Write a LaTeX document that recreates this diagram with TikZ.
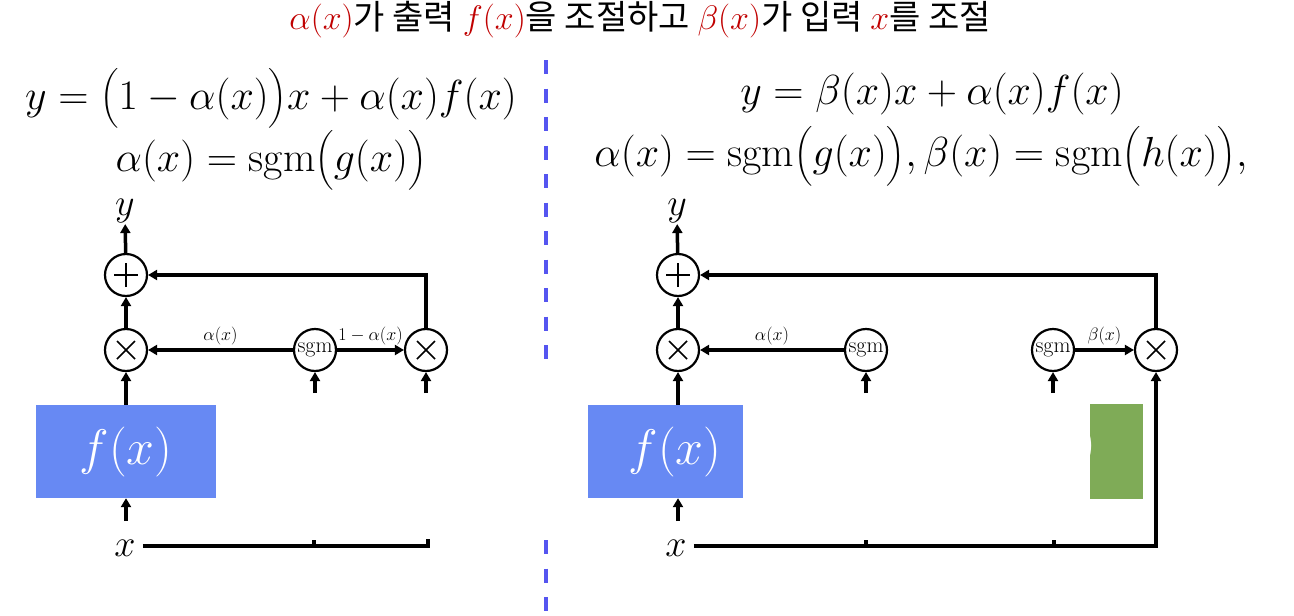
\RequirePackage{fix-cm}
\documentclass[tikz,border=0pt]{standalone}
\usepackage{amsmath}
\usepackage{fontspec}
\newfontfamily\kr{Noto Sans CJK KR}
\usetikzlibrary{arrows.meta}
\definecolor{fblue}{RGB}{103,137,243}
\definecolor{hgreen}{RGB}{127,171,87}
\definecolor{divblue}{RGB}{85,85,240}
\definecolor{tred}{RGB}{192,0,0}
\begin{document}
\begin{tikzpicture}[x=1pt,y=-1pt,
  op/.style={circle,draw,line width=2.2pt,minimum size=42pt,inner sep=0pt,fill=white},
  plusop/.style={op,path picture={
     \draw[line width=1.6pt] ([xshift=-12pt]path picture bounding box.center) -- ([xshift=12pt]path picture bounding box.center);
     \draw[line width=1.6pt] ([yshift=-12pt]path picture bounding box.center) -- ([yshift=12pt]path picture bounding box.center);}},
  timesop/.style={op,path picture={
     \draw[line width=1.6pt] ([shift={(-9pt,-9pt)}]path picture bounding box.center) -- ([shift={(9pt,9pt)}]path picture bounding box.center);
     \draw[line width=1.6pt] ([shift={(-9pt,9pt)}]path picture bounding box.center) -- ([shift={(9pt,-9pt)}]path picture bounding box.center);}},
  sgmop/.style={op,font=\fontsize{22}{23}\selectfont},
  conn/.style={line width=3.5pt,-{Triangle[length=9pt,width=10pt]}},
  wire/.style={line width=3.5pt},
  lab/.style={font=\fontsize{18}{20}\selectfont,inner sep=1pt},
  big/.style={font=\fontsize{38}{42}\selectfont,inner sep=1pt},
  eqn/.style={font=\fontsize{42}{62}\selectfont,inner sep=0pt,align=center},
  boxtext/.style={text=white,font=\fontsize{50}{54}\selectfont},
  fbox/.style={fill=fblue,minimum height=93pt,inner sep=0pt}
]
\useasboundingbox (0,0) rectangle (1294,616);

% title
\node[font=\kr\fontsize{34}{38}\selectfont] (title) at (640,20)
  {\textcolor{tred}{$\alpha(x)$}가 출력 \textcolor{tred}{$f(x)$}을 조절하고 \textcolor{tred}{$\beta(x)$}가 입력 \textcolor{tred}{$x$}를 조절};

% divider
\draw[divblue,line width=3.5pt,dash pattern=on 14pt off 14.5pt] (546,60) -- (546,362);
\draw[divblue,line width=3.5pt,dash pattern=on 14pt off 14.5pt] (546,540) -- (546,612);

% ---------- left ----------
\node[eqn] (eqL) at (271,129.5) {$y=\bigl(1-\alpha(x)\bigr)x+\alpha(x)f(x)$\\ $\alpha(x)=\mathrm{sgm}\bigl(g(x)\bigr)$};

\node[big] (yl1) at (125,211) {$y$};
\node[plusop] (p1) at (126,275) {};
\node[timesop] (t1) at (126,350) {};
\node[sgmop] (s1) at (315,350) {sgm};
\node[timesop] (t2) at (426,350) {};
\node[fbox,minimum width=180pt] (f1) at (126,451.5) {};
\node[boxtext] (f1t) at (126,451.5) {$f(x)$};
\node[big] (xl1) at (125,548) {$x$};

\coordinate (xa1) at (126,521);
\coordinate (sa1) at (315,393);
\coordinate (ta2) at (426,393);

\draw[conn] (p1) -- (yl1);
\draw[conn] (t1) -- (p1);
\draw[conn] (f1.north -| t1) -- (t1);
\draw[conn] (xa1) -- (f1.south -| xa1);
\draw[conn] (s1) -- node[lab,above=2pt]{$\alpha(x)$} (t1);
\draw[conn] (s1) -- node[lab,above=2pt]{$1-\alpha(x)$} (t2);
\draw[conn] (t2) |- (p1);
\draw[conn] (sa1) -- (s1);
\draw[conn] (ta2) -- (t2);
\draw[wire] ([xshift=6pt]xl1.east |- 0,546) -- (428,546) -- (428,539);
\draw[wire] (314,546) -- (314,540);

% ---------- right ----------
\node[eqn] (eqR) at (921,129.5) {\hspace*{22pt}$y=\beta(x)x+\alpha(x)f(x)$\\ $\alpha(x)=\mathrm{sgm}\bigl(g(x)\bigr),\beta(x)=\mathrm{sgm}\bigl(h(x)\bigr),$};

\node[big] (yl2) at (677,211) {$y$};
\node[plusop] (p2) at (678,275) {};
\node[timesop] (t3) at (678,350) {};
\node[sgmop] (s2) at (866,350) {sgm};
\node[sgmop] (s3) at (1053,350) {sgm};
\node[timesop] (t4) at (1156,350) {};
\node[fbox,minimum width=155pt] (f2) at (665.5,451.5) {};
\node[boxtext] (f2t) at (675,451.5) {$f(x)$};
\node[fill=hgreen,minimum width=53pt,minimum height=95pt,inner sep=0pt,anchor=north west] (h2) at (1090,404) {};
\begin{scope}
  \clip (h2.south west) rectangle (h2.north east);
  \node[boxtext,anchor=east,inner sep=0pt] (h2t) at (1096,446) {$h(x)$};
\end{scope}
\node[big] (xl2) at (676,548) {$x$};

\coordinate (xa2) at (678,521);
\coordinate (sa2) at (866,393);
\coordinate (sa3) at (1053,393);

\draw[conn] (p2) -- (yl2);
\draw[conn] (t3) -- (p2);
\draw[conn] (f2.north -| t3) -- (t3);
\draw[conn] (xa2) -- (f2.south -| xa2);
\draw[conn] (s2) -- node[lab,above=2pt]{$\alpha(x)$} (t3);
\draw[conn] (s3) -- node[lab,above=2pt]{$\beta(x)$} (t4);
\draw[conn] (t4) |- (p2);
\draw[conn] (sa2) -- (s2);
\draw[conn] (sa3) -- (s3);
\draw[conn] ([xshift=6pt]xl2.east |- 0,546) -- (1156,546) -- (t4);
\draw[wire] (866,546) -- (866,540);
\draw[wire] (1054,546) -- (1054,540);
\end{tikzpicture}
\end{document}
